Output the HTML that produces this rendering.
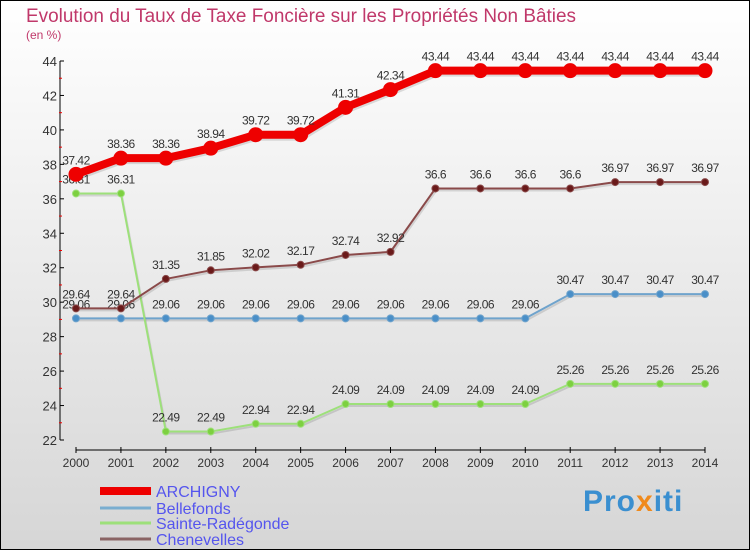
<!DOCTYPE html>
<html><head><meta charset="utf-8"><style>
body{margin:0}
#c{width:750px;height:550px;position:relative;box-sizing:border-box;border:1px solid #000;background:linear-gradient(#ffffff,#d6d6d6);overflow:hidden;font-family:"Liberation Sans",sans-serif}
</style></head><body>
<div id="c">
<svg id="s" width="750" height="550" style="position:absolute;left:-1px;top:-1px">
<text x="26" y="22" font-size="19" fill="#c0386a" textLength="550" lengthAdjust="spacingAndGlyphs">Evolution du Taux de Taxe Foncière sur les Propriétés Non Bâties</text>
<text x="26" y="39" font-size="12" fill="#c0386a">(en %)</text>
<g id="axes"></g><g id="series"></g><g id="legend"></g>
</svg>
<div style="position:absolute;left:582px;top:484px;font-size:30px;font-weight:bold;letter-spacing:1px"><span style="color:#3a8fd0">Pro</span><span style="color:#f08a1c">x</span><span style="color:#3a8fd0">iti</span></div>
</div>
<script>
const years=[2000,2001,2002,2003,2004,2005,2006,2007,2008,2009,2010,2011,2012,2013,2014];
const archigny=[37.42,38.36,38.36,38.94,39.72,39.72,41.31,42.34,43.44,43.44,43.44,43.44,43.44,43.44,43.44];
const bellefonds=[29.06,29.06,29.06,29.06,29.06,29.06,29.06,29.06,29.06,29.06,29.06,30.47,30.47,30.47,30.47];
const sainte=[36.31,36.31,22.49,22.49,22.94,22.94,24.09,24.09,24.09,24.09,24.09,25.26,25.26,25.26,25.26];
const chenevelles=[29.64,29.64,31.35,31.85,32.02,32.17,32.74,32.92,36.6,36.6,36.6,36.6,36.97,36.97,36.97];
const yTicks=[22,24,26,28,30,32,34,36,38,40,42,44];
const NS='http://www.w3.org/2000/svg';
const X=i=>76+i*(705-76)/14;
const Y=v=>440-(v-22)*(440-61)/22;
function mk(t,a,p){const e=document.createElementNS(NS,t);for(const k in a)e.setAttribute(k,a[k]);p.appendChild(e);return e;}
const ax=document.getElementById('axes');
let e=mk('line',{x1:60,y1:61,x2:60,y2:440,stroke:'#000','stroke-width':1},ax);

e=mk('line',{x1:76,y1:450,x2:705,y2:450,stroke:'#000','stroke-width':1},ax);

yTicks.forEach(v=>{
  mk('line',{x1:60,y1:Y(v),x2:64,y2:Y(v),stroke:'#000'},ax);
  if(v<44) mk('line',{x1:59,y1:Y(v+1),x2:62,y2:Y(v+1),stroke:'#e00'},ax);
  const t=mk('text',{x:57,y:Y(v)+5,'text-anchor':'end','font-size':13,fill:'#333'},ax);t.textContent=v;
  
});
years.forEach((yr,i)=>{
  mk('line',{x1:X(i),y1:447,x2:X(i),y2:453,stroke:'#000'},ax);
  const t=mk('text',{x:X(i),y:467,'text-anchor':'middle','font-size':12,fill:'#333'},ax);t.textContent=yr;
  
});
const sg=document.getElementById('series');
function draw(vals,col,w,r,dot,name){
  const g=mk('g',{},sg);
  
  const pts=vals.map((v,i)=>X(i)+','+Y(v)).join(' ');
  mk('polyline',{points:pts,fill:'none',stroke:'rgba(0,0,0,0.12)','stroke-width':w,transform:'translate(1,2)'},g);
  mk('polyline',{points:pts,fill:'none',stroke:col,'stroke-width':w,'stroke-linejoin':'round'},g);
  vals.forEach((v,i)=>{
    const c=mk('circle',{cx:X(i),cy:Y(v),r:r,fill:dot,stroke:col,'stroke-width':1},g);
    
    const t=mk('text',{x:X(i),y:Y(v)-10,'text-anchor':'middle','font-size':12,fill:'#333','letter-spacing':'-0.5'},g);
    t.textContent=v;
    
  });
}
draw(bellefonds,'#6fa3cc',2,3.5,'#4a8fc8','bellefonds');
draw(sainte,'#9de07a',2,3.5,'#7dd040','sainte-radegonde');
draw(chenevelles,'#8a4a4a',2,3.5,'#6a1a1a','chenevelles');
draw(archigny,'#ee0000',8,7,'#ee0000','archigny');
const lg=document.getElementById('legend');
const leg=[['ARCHIGNY','#ee0000',8,491],['Bellefonds','#7aaed0',3,508],['Sainte-Radégonde','#9de07a',3,523],['Chenevelles','#8a6464',3,539]];
leg.forEach(l=>{
  const g=mk('g',{},lg);
  
  mk('line',{x1:100,y1:l[3],x2:151,y2:l[3],stroke:l[1],'stroke-width':l[2]},g);
  const t=mk('text',{x:156,y:l[3]+6,'font-size':16,fill:'#5555ee'},g);t.textContent=l[0];
});
</script>
</body></html>
